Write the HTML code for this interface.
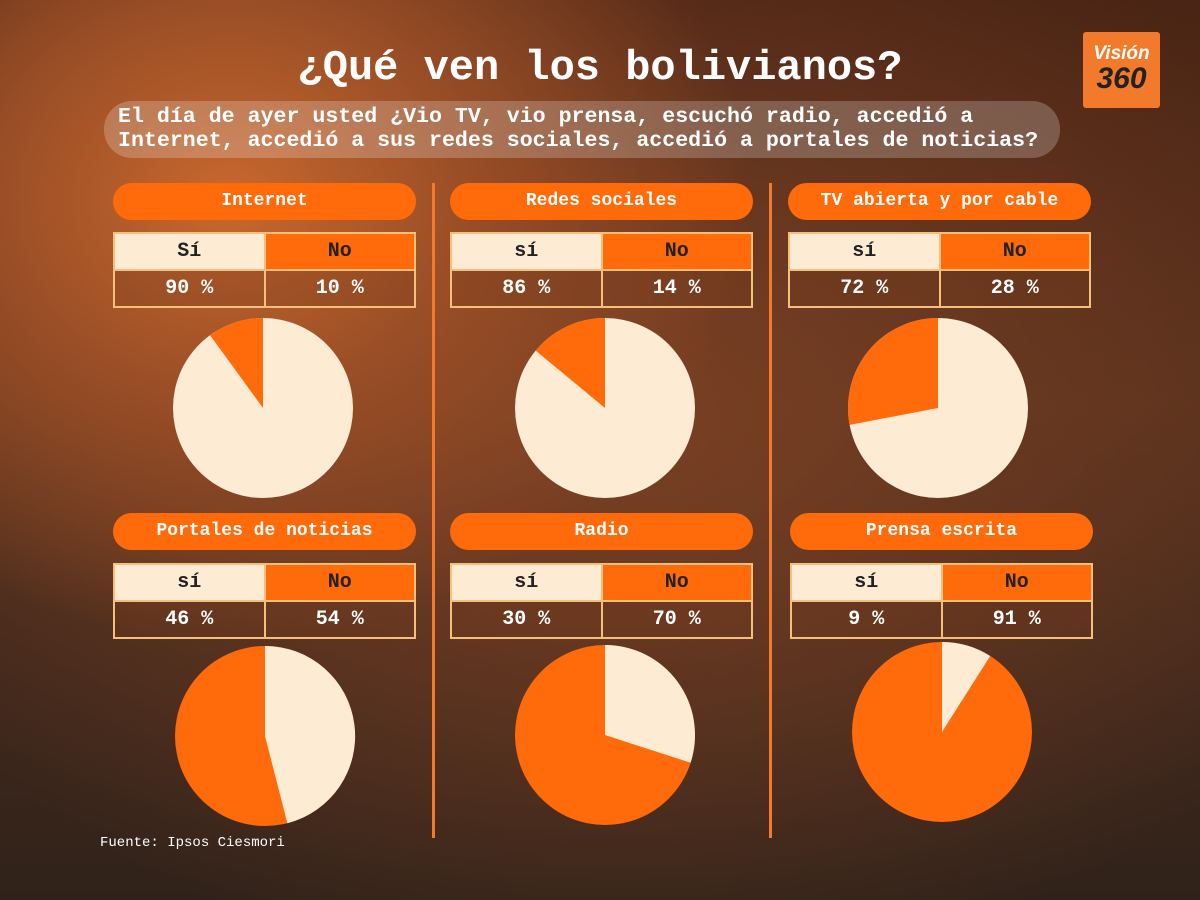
<!DOCTYPE html>
<html><head><meta charset="utf-8"><style>
*{margin:0;padding:0;box-sizing:border-box}
body{width:1200px;height:900px;overflow:hidden;font-family:"Liberation Mono",monospace;font-weight:bold;
background:radial-gradient(ellipse 520px 440px at 230px 200px,#c8682e 0%,#9a4e26 45%,transparent 100%),
radial-gradient(ellipse 800px 560px at 620px 420px,#7a4024 0%,transparent 100%),
linear-gradient(180deg,#4a2414 0%,#55301c 45%,#40281c 75%,#30221a 100%);position:relative}
.a{position:absolute}
.title{left:0;width:1200px;top:44px;text-align:center;color:#fff;font-size:42px}
.sub{left:104px;top:101px;width:956px;height:57px;border-radius:28px;background:rgba(255,255,255,0.22);color:#fff;font-size:21.6px;line-height:24px;padding:4px 14px;white-space:nowrap}
.logo{left:1083px;top:32px;width:77px;height:76px;background:#f27a2a;border-radius:3px;text-align:center;font-family:"Liberation Sans",sans-serif;font-style:italic}
.pill{height:37px;border-radius:19px;background:#ff6a0a;color:#fff;font-size:18px;text-align:center;line-height:36px;width:303px}
table{border-collapse:collapse;width:303px}
td{border:2px solid #f5c07a;height:37px;width:50%;text-align:center;font-size:20px}
td.s{background:#fdebd3;color:#222}td.n{background:#ff6a0a;color:#222}
td.v{color:#fff;background:rgba(120,60,30,0.3)}
.div{width:3px;background:#f27a2a;top:183px;height:655px}
</style></head><body>
<div class="a title">¿Qué ven los bolivianos?</div>
<div class="a sub">El día de ayer usted ¿Vio TV, vio prensa, escuchó radio, accedió a<br>Internet, accedió a sus redes sociales, accedió a portales de noticias?</div>
<div class="a logo"><div style="color:#fff;font-size:19px;font-weight:bold;margin-top:12px;line-height:20px">Visión</div><div style="color:#222;font-size:30px;font-weight:900;line-height:30px">360</div></div>
<div class="a div" style="left:432px"></div><div class="a div" style="left:769px"></div>

<div class="a pill" style="left:113px;top:183px">Internet</div>
<div class="a pill" style="left:450px;top:183px">Redes sociales</div>
<div class="a pill" style="left:788px;top:183px">TV abierta y por cable</div>
<div class="a pill" style="left:113px;top:513px">Portales de noticias</div>
<div class="a pill" style="left:450px;top:513px">Radio</div>
<div class="a pill" style="left:790px;top:513px">Prensa escrita</div>

<table class="a" style="left:113px;top:232px"><tr><td class="s">Sí</td><td class="n">No</td></tr><tr><td class="v">90 %</td><td class="v">10 %</td></tr></table>
<table class="a" style="left:450px;top:232px"><tr><td class="s">sí</td><td class="n">No</td></tr><tr><td class="v">86 %</td><td class="v">14 %</td></tr></table>
<table class="a" style="left:788px;top:232px"><tr><td class="s">sí</td><td class="n">No</td></tr><tr><td class="v">72 %</td><td class="v">28 %</td></tr></table>
<table class="a" style="left:113px;top:563px"><tr><td class="s">sí</td><td class="n">No</td></tr><tr><td class="v">46 %</td><td class="v">54 %</td></tr></table>
<table class="a" style="left:450px;top:563px"><tr><td class="s">sí</td><td class="n">No</td></tr><tr><td class="v">30 %</td><td class="v">70 %</td></tr></table>
<table class="a" style="left:790px;top:563px"><tr><td class="s">sí</td><td class="n">No</td></tr><tr><td class="v">9 %</td><td class="v">91 %</td></tr></table>

<svg class="a" style="left:0;top:0" width="1200" height="900">
<circle cx="263" cy="408" r="90" fill="#fdebd3"/>
<path d="M263,408 L263,318 A90,90 0 0 0 210.1,335.2 Z" fill="#ff6a0a"/>
<circle cx="605" cy="408" r="90" fill="#fdebd3"/>
<path d="M605,408 L605,318 A90,90 0 0 0 535.7,350.6 Z" fill="#ff6a0a"/>
<circle cx="938" cy="408" r="90" fill="#fdebd3"/>
<path d="M938,408 L938,318 A90,90 0 0 0 849.6,424.9 Z" fill="#ff6a0a"/>
<circle cx="265" cy="736" r="90" fill="#ff6a0a"/>
<path d="M265,736 L265,646 A90,90 0 0 1 287.4,823.2 Z" fill="#fdebd3"/>
<circle cx="605" cy="735" r="90" fill="#ff6a0a"/>
<path d="M605,735 L605,645 A90,90 0 0 1 690.6,762.8 Z" fill="#fdebd3"/>
<circle cx="942" cy="732" r="90" fill="#ff6a0a"/>
<path d="M942,732 L942,642 A90,90 0 0 1 990.2,656 Z" fill="#fdebd3"/>
</svg>
<div class="a" style="left:100px;top:835px;color:#fff;font-size:14px;font-weight:normal">Fuente: Ipsos Ciesmori</div>
</body></html>
